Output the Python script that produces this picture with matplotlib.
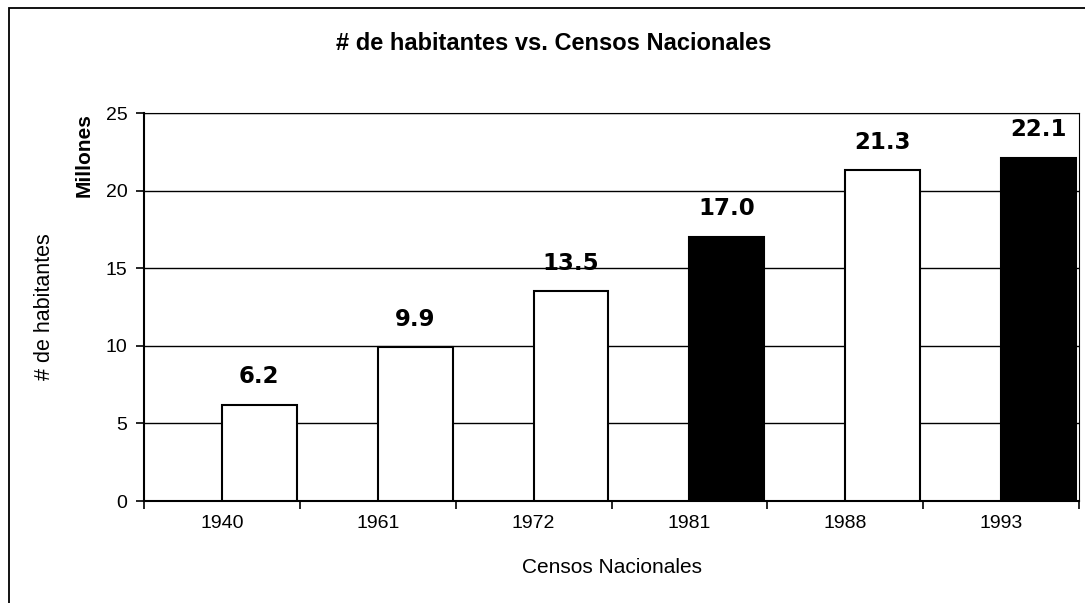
import matplotlib
matplotlib.use("Agg")
import matplotlib.pyplot as plt
from matplotlib.patches import Rectangle

years = ["1940", "1961", "1972", "1981", "1988", "1993"]
values = [6.2, 9.9, 13.5, 17.0, 21.3, 22.1]
fills = ["white", "white", "white", "black", "white", "black"]
yticks = [0, 5, 10, 15, 20, 25]

plt.rcParams['font.family'] = ['Liberation Sans', 'DejaVu Sans']

W, H = 1085, 603
fig = plt.figure(figsize=(W / 100, H / 100), dpi=100)
fig.patch.set_facecolor("white")

# outer chart border (top and left visible)
fig.patches.append(Rectangle((9 / W, -0.2), 1.2, 1 - 8 / H + 0.2, transform=fig.transFigure,
                             fill=False, edgecolor="black", linewidth=1.3))

ax = fig.add_axes([144 / W, 1 - 501 / H, 935 / W, (501 - 113) / H])
x = list(range(len(years)))
ax.bar(x, values, width=0.48, align="edge", color=fills, edgecolor="black", linewidth=1.5, zorder=3)

for xi, v in zip(x, values):
    ax.annotate(f"{v:.1f}", (xi + 0.24, v), xytext=(0, 12), textcoords="offset points",
                ha="center", va="bottom", fontsize=16.5, fontweight="bold",
                family=["DejaVu Sans"], zorder=4)

ax.set_xlim(-0.5, len(years) - 0.5)
ax.set_ylim(0, 25)
ax.set_yticks(yticks)
ax.set_yticklabels([str(t) for t in yticks], fontsize=14)
ax.set_xticks(x)
ax.set_xticklabels(years, fontsize=14)
ax.set_xticks([i - 0.5 for i in range(len(years) + 1)], minor=True)
ax.tick_params(axis="x", which="major", length=0, pad=10)
ax.tick_params(axis="x", which="minor", length=6, width=1.2, direction="out")
ax.tick_params(axis="y", length=6, width=1.2, direction="out", pad=6)
ax.yaxis.grid(True, color="black", linewidth=1.0, zorder=1)
ax.set_axisbelow(True)
for s in ["left", "bottom"]:
    ax.spines[s].set_linewidth(1.5)
for s in ["top", "right"]:
    ax.spines[s].set_linewidth(0.8)

ax.set_xlabel("Censos Nacionales", fontsize=15, labelpad=19)

fig.text(554 / W, 1 - 43 / H, "# de habitantes vs. Censos Nacionales", ha="center", va="center",
         fontsize=17, fontweight="bold")
fig.text(45 / W, 1 - 307 / H, "# de habitantes", ha="center", va="center", rotation=90, fontsize=15.5)
fig.text(84 / W, 1 - 155 / H, "Millones", ha="center", va="center", rotation=90, fontsize=15,
         fontweight="bold")

fig.savefig("out.png", dpi=100)
